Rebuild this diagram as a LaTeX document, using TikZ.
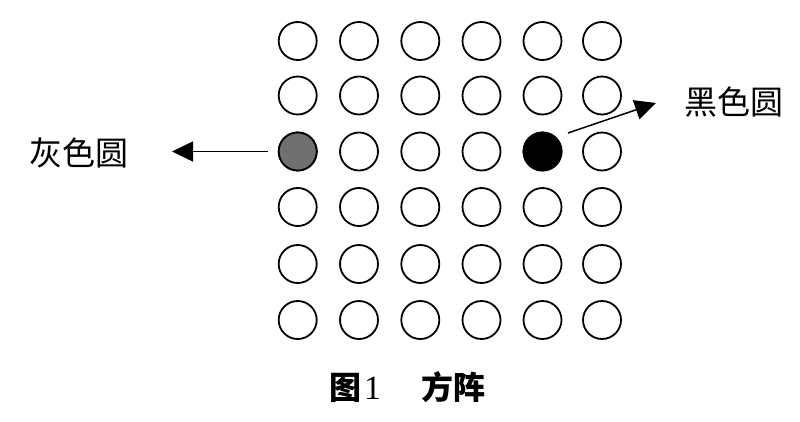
\documentclass[tikz,border=0pt]{standalone}
\usepackage{fontspec}
\newfontfamily\cjk{Noto Sans CJK SC}
\newfontfamily\numf{Liberation Serif}
\usetikzlibrary{arrows.meta}
\definecolor{grayfill}{HTML}{707070}
\tikzset{
  dot/.style={circle, draw=black, line width=1.8pt, minimum size=38pt, inner sep=0pt},
  lbl/.style={font=\cjk\fontsize{33}{35}\selectfont, inner sep=0pt},
  captext/.style={font=\cjk\bfseries\fontsize{32}{34}\selectfont, inner sep=0pt},
  arr/.style={line width=1.5pt, -{Triangle[length=21pt,width=20pt]}}
}
\begin{document}
\begin{tikzpicture}[x=1pt,y=-1pt]
\useasboundingbox (0,0) rectangle (800,421);
\fill[white] (0,0) rectangle (800,421);
\foreach \c/\x in {1/297.7,2/359,3/420.3,4/481.5,5/542.5,6/602}{
  \foreach \r/\y in {1/41,2/95.5,3/151.5,4/207,5/264,6/320}{
    \node[dot] (c\r\c) at (\x,\y) {};
  }
}
\node[dot, fill=grayfill] at (c31) {};
\node[dot, fill=black] at (c35) {};
\node[lbl] (gray) at (79,153) {灰色圆};
\node[lbl] (black) at (734,102) {黑色圆};
\coordinate (gs) at (268,151.5);
\coordinate (gt) at (172,151.5);
\coordinate (bs) at (568,133);
\coordinate (bt) at (656,103);
\draw[arr] (gs) -- (gt);
\draw[arr] (bs) -- (bt);
\node[captext] (caption) at (407,387) {图\hspace{3pt}{\numf\mdseries\fontsize{34}{36}\selectfont 1}\hspace{40pt}方阵};
\end{tikzpicture}
\end{document}
